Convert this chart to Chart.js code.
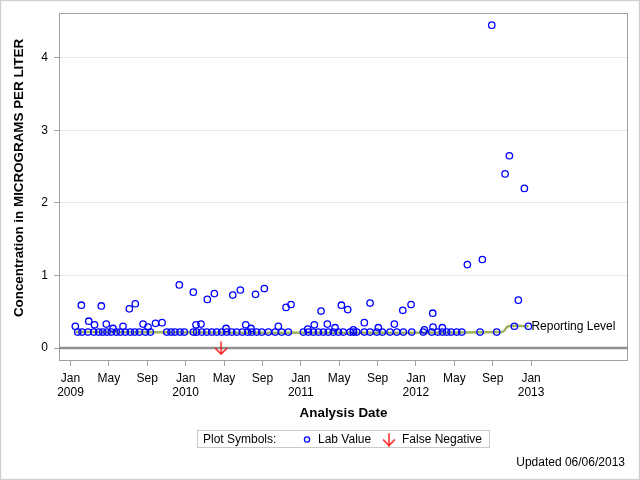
<!DOCTYPE html>
<html><head><meta charset="utf-8">
<script src="https://cdn.jsdelivr.net/npm/chart.js@4.4.0/dist/chart.umd.min.js"></script>
<style>html,body{margin:0;padding:0;background:#fff}#wrap{position:relative;width:640px;height:480px}</style>
</head><body><div id="wrap"><canvas id="c" width="640" height="480"></canvas></div>
<script>
// x values: months since Jan 2009
const xTickMonths = [0,4,8,12,16,20,24,28,32,36,40,44,48];
const xTickLabels = [["Jan","2009"],"May","Sep",["Jan","2010"],"May","Sep",["Jan","2011"],"May","Sep",["Jan","2012"],"May","Sep",["Jan","2013"]];
const yTicks = [0,1,2,3,4];

const labMonths = [0.5,0.75,1.13,1.2,1.82,1.9,2.42,2.5,2.94,3.21,3.36,3.73,3.8,4.25,4.43,4.77,5.19,5.47,5.71,6.13,6.23,6.69,6.75,7.17,7.56,7.8,8.08,8.32,8.86,9.54,10.03,10.48,10.89,11.34,11.41,11.86,12.8,12.8,13.08,13.15,13.6,13.68,14.2,14.26,14.72,14.99,15.24,15.76,16.21,16.28,16.8,16.91,17.32,17.7,17.91,18.26,18.47,18.81,18.89,19.28,19.41,19.93,20.2,20.62,21.32,21.66,22.01,22.46,22.7,22.98,24.27,24.72,24.79,25.31,25.41,25.83,26.11,26.35,26.77,26.87,27.39,27.57,27.91,28.23,28.43,28.89,29.13,29.48,29.48,29.83,30.62,30.62,31.22,31.22,31.92,32.08,32.5,33.3,33.75,34.0,34.63,34.69,35.49,35.56,36.77,36.88,37.65,37.75,37.78,38.27,38.75,38.75,39.21,39.66,40.25,40.78,41.36,42.68,42.92,43.9,44.42,45.29,45.74,46.26,46.67,47.3,47.72];
const labValues = [0.30,0.22,0.59,0.22,0.22,0.37,0.22,0.32,0.22,0.58,0.22,0.33,0.22,0.22,0.27,0.22,0.22,0.30,0.22,0.54,0.22,0.22,0.61,0.22,0.33,0.22,0.29,0.22,0.34,0.35,0.22,0.22,0.22,0.87,0.22,0.22,0.77,0.22,0.32,0.22,0.33,0.22,0.22,0.67,0.22,0.75,0.22,0.22,0.27,0.22,0.22,0.73,0.22,0.80,0.22,0.32,0.22,0.27,0.22,0.74,0.22,0.22,0.82,0.22,0.22,0.30,0.22,0.56,0.22,0.60,0.22,0.26,0.22,0.22,0.32,0.22,0.51,0.22,0.33,0.22,0.22,0.28,0.22,0.59,0.22,0.53,0.22,0.25,0.22,0.22,0.35,0.22,0.62,0.22,0.22,0.28,0.22,0.22,0.33,0.22,0.52,0.22,0.60,0.22,0.22,0.25,0.22,0.48,0.29,0.22,0.28,0.22,0.22,0.22,0.22,0.22,1.15,0.22,1.22,4.45,0.22,2.40,2.65,0.30,0.66,2.20,0.30];

const falseNegMonths = [15.69];
const falseNegValues = [0];

const reportMonths = [0.5, 45.0, 45.6, 47.72];
const reportValues = [0.22, 0.22, 0.30, 0.30];
const reportLabel = "Reporting Level";

const xTitle = "Analysis Date";
const yTitle = "Concentration in MICROGRAMS PER LITER";
const legendTitle = "Plot Symbols:";
const legendItems = ["Lab Value", "False Negative"];
const footnote = "Updated 06/06/2013";

const FONT = "'Liberation Sans', Arial, sans-serif";

function arrowCanvas(){
  const c = document.createElement('canvas');
  c.width = 14; c.height = 14;
  const g = c.getContext('2d');
  g.strokeStyle = '#ff0000'; g.lineWidth = 1.3;
  g.beginPath(); g.moveTo(7,0.5); g.lineTo(7,13); g.stroke();
  g.beginPath(); g.moveTo(1,7); g.lineTo(7,13); g.lineTo(13,7); g.stroke();
  return c;
}
const arrowImg = arrowCanvas();

const framePlugin = {
  id: 'frame',
  beforeDatasetsDraw(chart){
    const {ctx, chartArea:a} = chart;
    ctx.save();
    ctx.strokeStyle = '#a0a0a0'; ctx.lineWidth = 1;
    ctx.strokeRect(Math.round(a.left)+0.5, Math.round(a.top)+0.5, Math.round(a.right-a.left)-1, Math.round(a.bottom-a.top));
    const y0 = chart.scales.y.getPixelForValue(0);
    ctx.strokeStyle = '#909090'; ctx.lineWidth = 2.5;
    ctx.beginPath(); ctx.moveTo(a.left, y0); ctx.lineTo(a.right, y0); ctx.stroke();
    ctx.restore();
  },
  afterDraw(chart){
    const {ctx} = chart;
    const xs = chart.scales.x, ys = chart.scales.y;
    ctx.save();
    // y axis title
    ctx.save();
    ctx.translate(19, 178); ctx.rotate(-Math.PI/2);
    ctx.font = "bold 13.4px " + FONT; ctx.fillStyle = '#000';
    ctx.textAlign = 'center'; ctx.textBaseline = 'middle';
    ctx.fillText(yTitle, 0, 0);
    ctx.restore();
    // reporting level label
    ctx.font = "12px " + FONT; ctx.fillStyle = '#000'; ctx.textBaseline = 'middle'; ctx.textAlign = 'left';
    const n = reportMonths.length - 1;
    ctx.fillText(reportLabel, xs.getPixelForValue(reportMonths[n]) + 3, ys.getPixelForValue(reportValues[n]));
    // legend box
    const bx = 197.5, by = 430.5, bw = 292, bh = 17;
    ctx.strokeStyle = '#c8c8c8'; ctx.lineWidth = 1;
    ctx.strokeRect(bx, by, bw, bh);
    const cy = by + bh/2 + 0.5;
    ctx.fillStyle = '#000';
    ctx.fillText(legendTitle, 203, cy);
    ctx.strokeStyle = '#0000ff'; ctx.lineWidth = 1.3;
    ctx.beginPath(); ctx.arc(307, cy, 2.6, 0, Math.PI*2); ctx.stroke();
    ctx.fillText(legendItems[0], 318, cy);
    ctx.drawImage(arrowImg, 382, cy - 7);
    ctx.fillText(legendItems[1], 402, cy);
    // footnote
    ctx.textAlign = 'right';
    ctx.fillText(footnote, 625, 463);
    // outer frame
    ctx.strokeStyle = '#d0d0d0';
    ctx.strokeRect(0.5, 0.5, 639, 479);
    ctx.restore();
  }
};

new Chart(document.getElementById('c'), {
  type: 'scatter',
  data: {
    datasets: [
      {
        label: legendItems[0],
        data: labMonths.map((m,i)=>({x:m, y:labValues[i]})),
        pointStyle: 'circle', pointRadius: 3.2, pointBorderWidth: 1.3,
        borderColor: '#0000ff', backgroundColor: 'rgba(0,0,0,0)', order: 0
      },
      {
        label: legendItems[1],
        data: falseNegMonths.map((m,i)=>({x:m, y:falseNegValues[i]})),
        pointStyle: arrowImg, pointRadius: 7, order: 0
      },
      {
        label: reportLabel, type: 'line',
        data: reportMonths.map((m,i)=>({x:m, y:reportValues[i]})),
        borderColor: '#9db35f', borderWidth: 2.5, pointRadius: 0, tension: 0.3,
        fill: false, order: 1
      }
    ]
  },
  plugins: [framePlugin],
  options: {
    responsive: false, animation: false,
    layout: { padding: { left: 0, right: 12, top: 11, bottom: 0 } },
    plugins: { legend: { display: false }, tooltip: { enabled: false } },
    scales: {
      x: {
        type: 'linear', min: -1.2, max: 58.1,
        afterFit(s){ s.height = 120; },
        afterBuildTicks(s){ s.ticks = xTickMonths.map(v=>({value:v})); },
        border: { display: false },
        grid: { drawOnChartArea: false, drawTicks: true, tickLength: 6, tickColor: '#a0a0a0' },
        ticks: {
          autoSkip: false, maxRotation: 0, padding: 5, color: '#000',
          font: { family: FONT, size: 12 }, lineHeight: 1.2,
          callback(v){ const i = xTickMonths.indexOf(v); return i >= 0 ? xTickLabels[i] : ''; }
        },
        title: { display: true, text: xTitle, color: '#000', font: { family: FONT, size: 13.4, weight: 'bold' }, padding: { top: 0, bottom: 59 } }
      },
      y: {
        type: 'linear', min: -0.165, max: 4.615,
        afterFit(s){ s.width = 59; },
        afterBuildTicks(s){ s.ticks = yTicks.map(v=>({value:v})); },
        border: { display: false },
        grid: {
          color: ctx => ctx.tick && ctx.tick.value === 0 ? 'rgba(0,0,0,0)' : '#e6e6e6',
          drawTicks: true, tickLength: 5, tickColor: '#a0a0a0'
        },
        ticks: { padding: 6, color: '#000', font: { family: FONT, size: 12 } },
        title: { display: false }
      }
    }
  }
});
</script></body></html>
